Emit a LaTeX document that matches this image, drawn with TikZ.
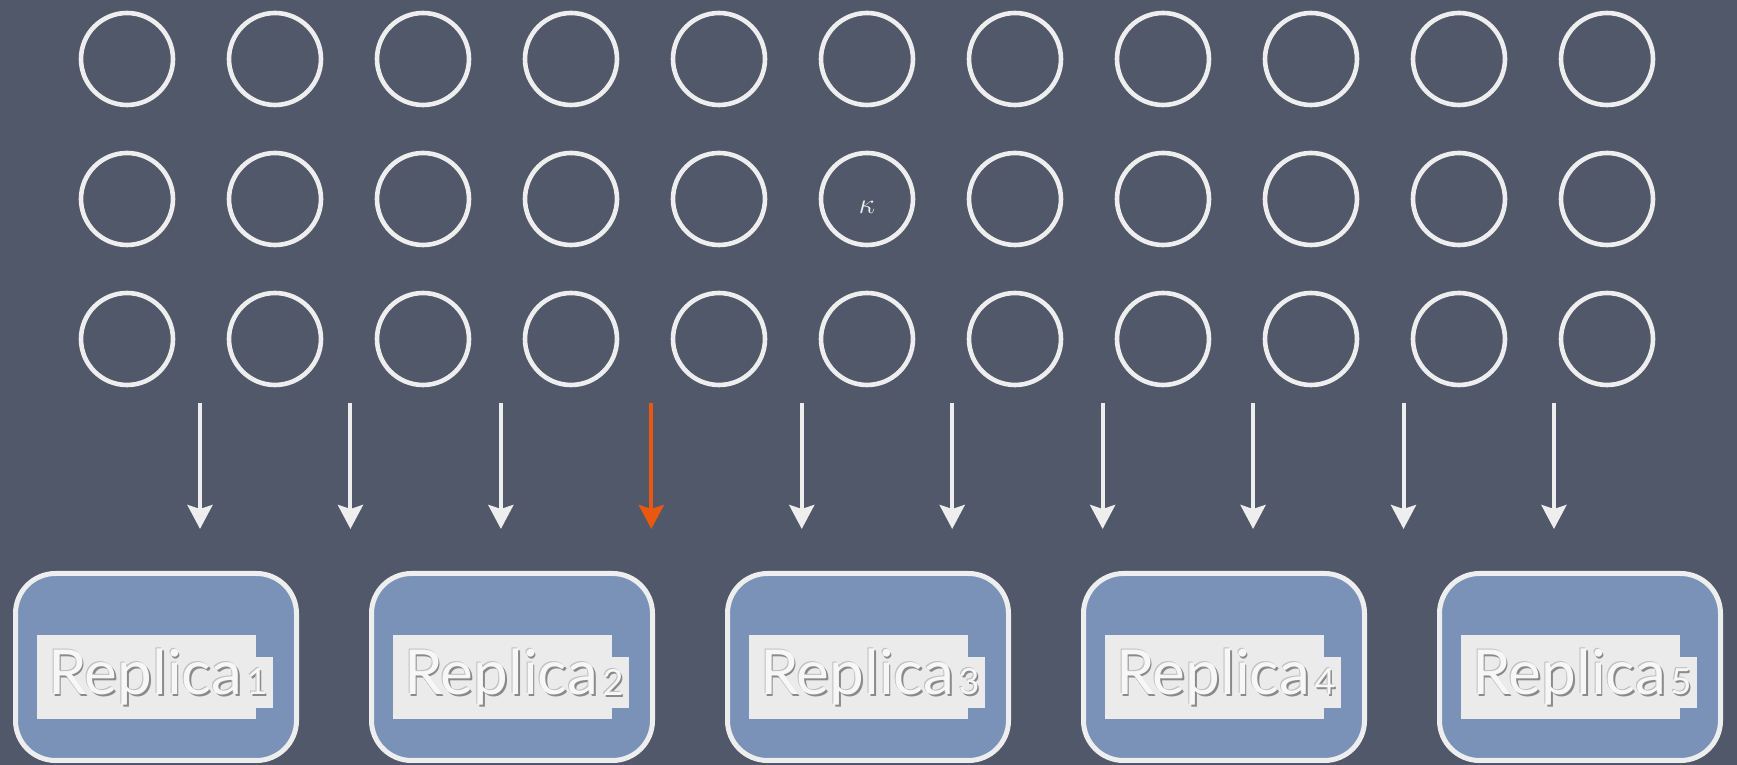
\documentclass[tikz,border=0pt]{standalone}
\usepackage{fontspec}
\setmainfont{Lato}
\usetikzlibrary{positioning,arrows.meta}

\definecolor{slate}{HTML}{505869}
\definecolor{chalk}{HTML}{EEEEEE}
\definecolor{replicablue}{HTML}{7A92B8}
\definecolor{labelgray}{HTML}{EBEBEB}
\definecolor{shadowgray}{HTML}{8A8A8A}
\definecolor{hotorange}{HTML}{E8590F}

\newcommand{\chalktext}[1]{%
  \makebox[0pt][l]{\raisebox{-1pt}{\hspace*{0.8pt}\textcolor{shadowgray}{#1}}}%
  \makebox[0pt][l]{\raisebox{0.5pt}{\hspace*{-0.5pt}\textcolor{shadowgray!55}{#1}}}%
  \textcolor{white!97!black}{#1}}

\begin{document}
\begin{tikzpicture}[
    x=0.5pt, y=0.5pt,
    node distance=35pt,
    bubble/.style={circle, draw=chalk, line width=2.3pt, minimum size=46pt, inner sep=0pt},
    feed/.style={-{Stealth[length=12pt,width=12.5pt,inset=2pt]}, draw=chalk, line width=2pt},
    replica/.style={
      rectangle, rounded corners=20pt, draw=chalk, line width=2.5pt,
      fill=replicablue, minimum width=140.5pt, minimum height=93.5pt
    },
    tag/.style={
      fill=labelgray, minimum height=42pt, text width=98.5pt, inner xsep=5.5pt,
      inner ysep=0pt, align=left, font=\fontsize{31}{31}\selectfont
    },
    subtag/.style={
      fill=labelgray, minimum width=16pt, minimum height=25.5pt, inner sep=0pt,
      font=\fontsize{18}{18}\selectfont
    }
  ]
  \fill[slate] (0,0) rectangle (1737,765);
  \foreach \row/\y in {1/706,2/566,3/426}
    \foreach \col in {1,...,11}
      \node[bubble] (b-\row-\col) at ({127+148*(\col-1)},\y) {};
  \node[text=chalk, font=\fontsize{15}{15}\selectfont] (kappa) at ([yshift=-4pt]b-2-6.center) {$\kappa$};
  \foreach \i in {0,...,9} {
    \coordinate (in-\i) at ({200+150.44*\i},362);
    \coordinate (out-\i) at ({200+150.44*\i},236);
  }
  \foreach \i in {0,1,2,4,5,...,9}
    \draw[feed] (in-\i) -- (out-\i);
  \draw[feed, draw=hotorange] (in-3) -- (out-3);
  \node[replica] (rep1) at (156,98) {};
  \node[replica, right=of rep1] (rep2) {};
  \node[replica, right=of rep2] (rep3) {};
  \node[replica, right=of rep3] (rep4) {};
  \node[replica, right=of rep4] (rep5) {};
  \foreach \n in {1,...,5} {
    \node[tag] (tag\n) at ([xshift=-4.75pt,yshift=-5pt]rep\n.center) {\chalktext{Replica}};
    \node[subtag] (sub\n) at ([xshift=50.5pt,yshift=-7.75pt]rep\n.center) {\chalktext{\n}};
  }
\end{tikzpicture}
\end{document}
